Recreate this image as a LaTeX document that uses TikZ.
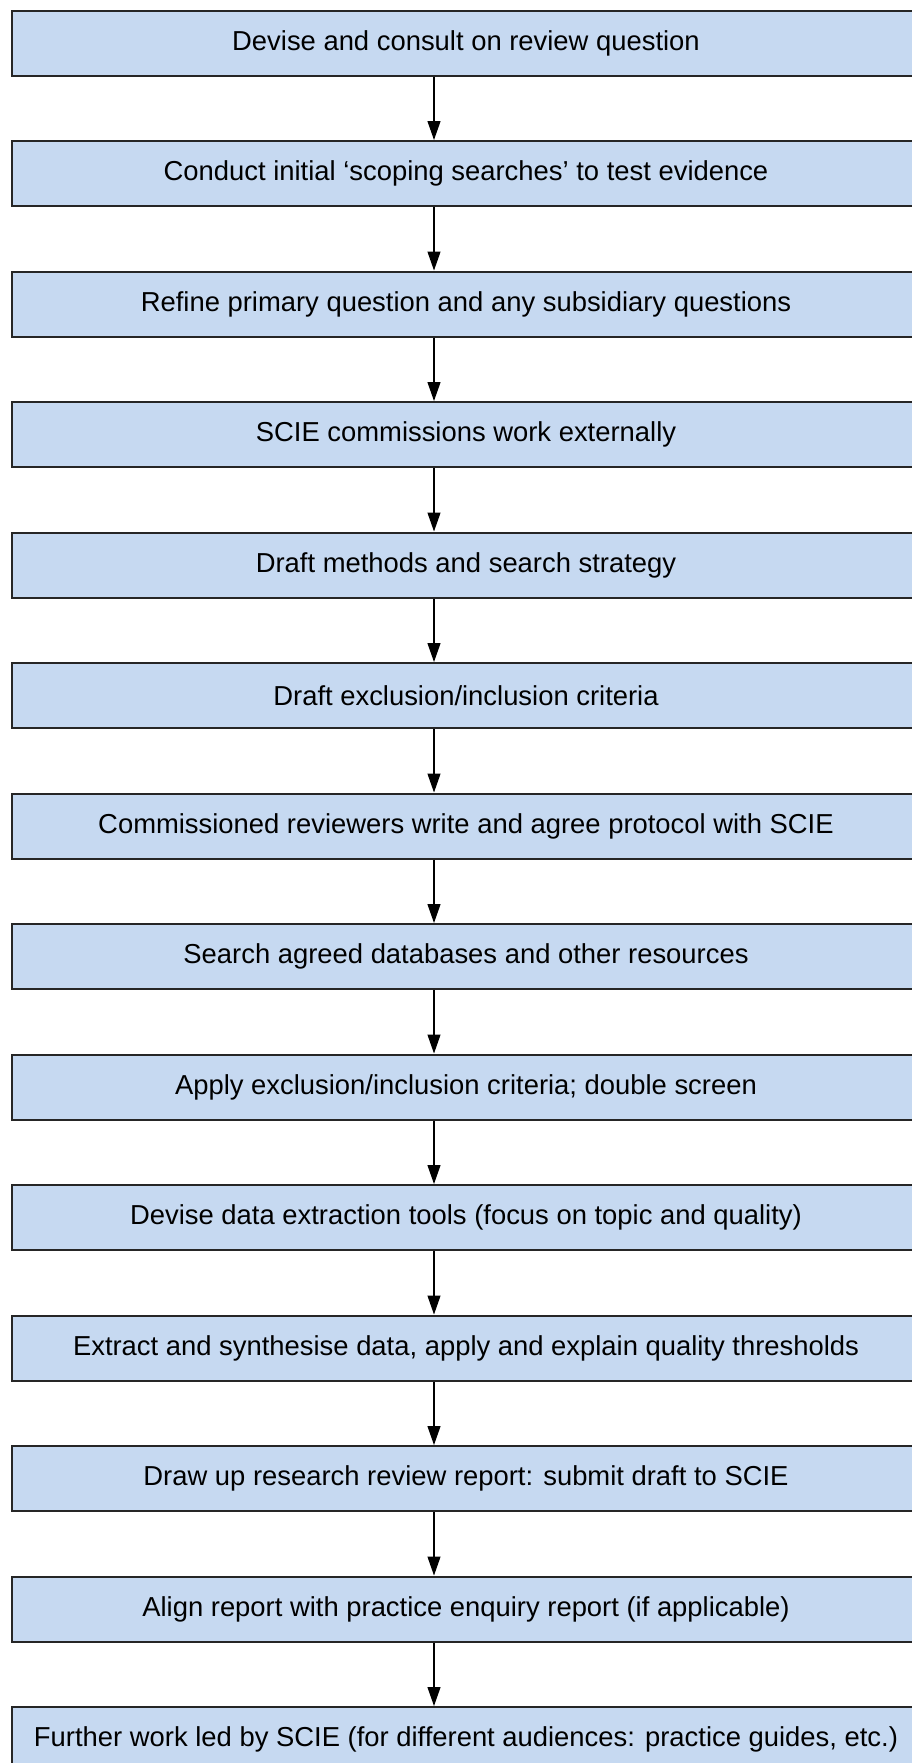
\documentclass[tikz,border=0pt]{standalone}
\usepackage{fontspec}
\setmainfont{Liberation Sans}
\usetikzlibrary{arrows.meta}
\definecolor{boxblue}{HTML}{C6D9F1}
\tikzstyle{stepbox}=[rectangle,draw=black!85,line width=1pt,fill=boxblue,minimum width=454pt,minimum height=32.5pt,inner sep=0pt,font=\fontsize{13.7}{16}\selectfont]

\begin{document}
\begin{tikzpicture}[x=0.5pt,y=-0.5pt,-{Triangle[width=6.5pt,length=9.5pt]},line width=0.6pt]
          \useasboundingbox (0,0) rectangle (911,1763);
          \coordinate (axis) at (434,0);
          \foreach \name/\row/\text in {S-1/0/{Devise and consult on review question},
                                        S-2/1/{Conduct initial ‘scoping searches’ to test evidence},
                                        S-3/2/{Refine primary question and any subsidiary questions},
                                        S-4/3/{SCIE commissions work externally},
                                        S-5/4/{Draft methods and search strategy},
                                        S-6/5/{Draft exclusion/inclusion criteria},
                                        S-7/6/{Commissioned reviewers write and agree protocol with SCIE},
                                        S-8/7/{Search agreed databases and other resources},
                                        S-9/8/{Apply exclusion/inclusion criteria; double screen},
                                        S-10/9/{Devise data extraction tools (focus on topic and quality)},
                                        S-11/10/{Extract and synthesise data, apply and explain quality thresholds},
                                        S-12/11/{Draw up research review report: submit draft to SCIE},
                                        S-13/12/{Align report with practice enquiry report (if applicable)},
                                        S-14/13/{Further work led by SCIE (for different audiences: practice guides, etc.)}}
            \node[stepbox] (\name) at (466,{43+130.5*\row}) {\text};
          \foreach \from/\to in {1/2,2/3,3/4,4/5,5/6,6/7,7/8,8/9,9/10,10/11,11/12,12/13,13/14}
            \draw (S-\from.south -| axis) -- (S-\to.north -| axis);
        \end{tikzpicture}
\end{document}
